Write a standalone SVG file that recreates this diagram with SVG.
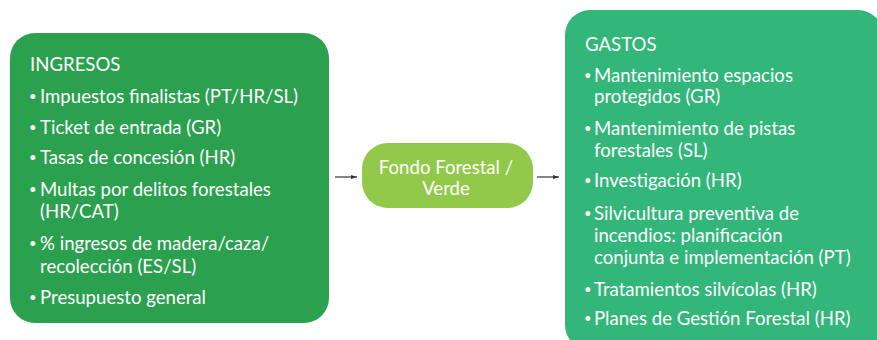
<svg xmlns="http://www.w3.org/2000/svg" width="877" height="340" viewBox="0 0 877 340">
<defs>
<style>
text{font-family:Lato,"Open Sans","Liberation Sans",sans-serif;font-size:18.6px;fill:#ffffff}
.b{font-size:13px}
.c{text-anchor:middle}
.conn{stroke:#333333;stroke-width:1.2;fill:none}
</style>
<marker id="ah" viewBox="0 0 10 10" refX="10" refY="5" markerWidth="6" markerHeight="6" orient="auto" markerUnits="userSpaceOnUse">
<path d="M0,1.5 L10,5 L0,8.5 Z" fill="#333333"/>
</marker>
</defs>
<rect width="877" height="340" fill="#ffffff"/>
<g id="ingresos">
<rect x="10" y="33" width="319" height="290" rx="25" fill="#2ba04f"/>
<text x="30" y="71">INGRESOS</text>
<text class="b" x="29" y="101">•</text><text x="40" y="103">Impuestos finalistas (PT/HR/SL)</text>
<text class="b" x="29" y="131.5">•</text><text x="40" y="133.5">Ticket de entrada (GR)</text>
<text class="b" x="29" y="162">•</text><text x="40" y="164">Tasas de concesión (HR)</text>
<text class="b" x="29" y="193.5">•</text><text x="40" y="195.5">Multas por delitos forestales</text>
<text x="40" y="218">(HR/CAT)</text>
<text class="b" x="29" y="248">•</text><text x="40" y="250">% ingresos de madera/caza/</text>
<text x="40" y="273">recolección (ES/SL)</text>
<text class="b" x="29" y="302">•</text><text x="40" y="304">Presupuesto general</text>
</g>
<g id="fondo">
<rect x="362" y="143" width="171" height="65" rx="26" fill="#93c94b"/>
<text class="c" x="446" y="173.5">Fondo Forestal /</text>
<text class="c" x="446" y="194.5">Verde</text>
</g>
<g id="gastos">
<rect x="565" y="10" width="318" height="340" rx="25" fill="#32b67a"/>
<text x="585" y="50.5">GASTOS</text>
<text class="b" x="584" y="79.5">•</text><text x="594" y="81.5">Mantenimiento espacios</text>
<text x="594" y="103">protegidos (GR)</text>
<text class="b" x="584" y="132.5">•</text><text x="594" y="134.5">Mantenimiento de pistas</text>
<text x="594" y="156.5">forestales (SL)</text>
<text class="b" x="584" y="185">•</text><text x="594" y="187">Investigación (HR)</text>
<text class="b" x="584" y="217.5">•</text><text x="594" y="219.5">Silvicultura preventiva de</text>
<text x="594" y="241.5">incendios: planificación</text>
<text x="594" y="263.5">conjunta e implementación (PT)</text>
<text class="b" x="584" y="293.5">•</text><text x="594" y="295.5">Tratamientos silvícolas (HR)</text>
<text class="b" x="584" y="323">•</text><text x="594" y="325">Planes de Gestión Forestal (HR)</text>
</g>
<g id="connectors">
<line class="conn" x1="335" y1="177" x2="357" y2="177" marker-end="url(#ah)"/>
<line class="conn" x1="537" y1="177" x2="559" y2="177" marker-end="url(#ah)"/>
</g>
</svg>
